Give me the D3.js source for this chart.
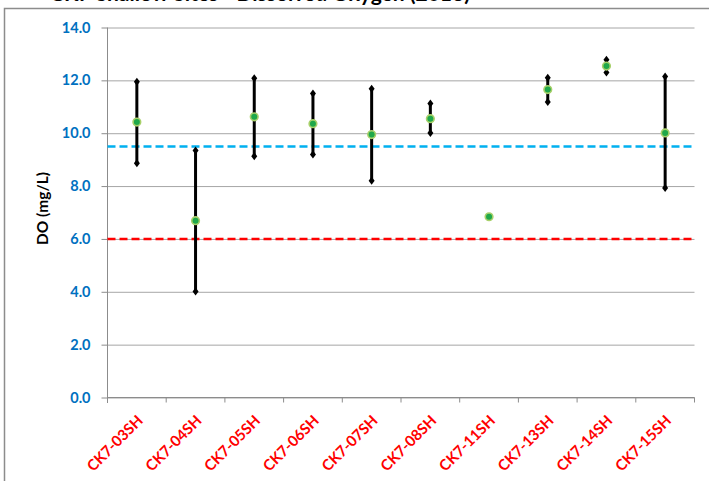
<!DOCTYPE html>
<html>
<head>
<meta charset="utf-8">
<script src="https://cdn.jsdelivr.net/npm/d3@7"></script>
<style>
  html, body { margin: 0; padding: 0; background: #fff; }
  svg { display: block; font-family: Lato, "Open Sans", sans-serif; }
</style>
</head>
<body>
<svg id="chart" width="709" height="481"></svg>
<script>
// site names along the x axis
const sites = ['CK7-03SH', 'CK7-04SH', 'CK7-05SH', 'CK7-06SH', 'CK7-07SH',
  'CK7-08SH', 'CK7-11SH', 'CK7-13SH', 'CK7-14SH', 'CK7-15SH'];
// DO values (mg/L), null = no range
const meanDO = [10.42, 6.69, 10.62, 10.36, 9.95, 10.55, 6.84, 11.65, 12.54, 10.01];
const maxDO = [11.95, 9.35, 12.08, 11.50, 11.68, 11.12, null, 12.10, 12.78, 12.15];
const minDO = [8.86, 4.01, 9.13, 9.19, 8.20, 10.01, null, 11.18, 12.30, 7.93];
const yTicks = [0, 2, 4, 6, 8, 10, 12, 14];
// reference lines
const upperRef = 9.5;
const lowerRef = 6.0;

const svg = d3.select('#chart');

// chart border (runs off the bottom/right like the screenshot)
svg.append('rect')
  .attr('x', 4.5).attr('y', 8.5)
  .attr('width', 720).attr('height', 490)
  .attr('fill', 'none')
  .attr('stroke', '#8c8c8c')
  .attr('stroke-width', 1.5);

// title, mostly above the visible area (screenshot cuts it off)
svg.append('text')
  .attr('x', 470).attr('y', 1)
  .attr('text-anchor', 'end')
  .attr('font-size', 21).attr('font-weight', 'bold')
  .attr('fill', '#000')
  .text('CK7 Shallow Sites - Dissolved Oxygen (2018)');

const x = d3.scaleBand().domain(sites).range([107.5, 694.5]);
const y = d3.scaleLinear().domain([0, 14]).range([397.5, 27.5]);

// gridlines
svg.append('g')
  .attr('transform', 'translate(107.5,0)')
  .call(d3.axisLeft(y).tickValues(yTicks).tickSize(-(694.5 - 107.5)).tickFormat(''))
  .call(g => g.select('.domain').remove())
  .call(g => g.selectAll('line').attr('stroke', '#a6a6a6'));

// y axis
svg.append('g')
  .attr('transform', 'translate(107.5,0)')
  .call(d3.axisLeft(y).tickValues(yTicks).tickSize(6).tickSizeOuter(0).tickFormat(d3.format('.1f')))
  .call(g => g.select('.domain').attr('stroke', '#8c8c8c').attr('d', 'M0,27.5V403'))
  .call(g => g.selectAll('line').attr('stroke', '#8c8c8c'))
  .call(g => g.selectAll('text')
    .attr('x', -17)
    .attr('fill', '#0070c0')
    .attr('font-size', 14.5)
    .attr('font-weight', 'bold')
    .attr('font-family', 'Lato, sans-serif'));

// x axis line + ticks between categories
const xAxis = svg.append('g');
xAxis.append('line')
  .attr('x1', 107.5).attr('x2', 694.5)
  .attr('y1', y(0)).attr('y2', y(0))
  .attr('stroke', '#8c8c8c');
xAxis.selectAll('line.tick')
  .data(sites.map(s => x(s)).concat([x.range()[1]]))
  .join('line')
  .attr('class', 'tick')
  .attr('x1', d => d).attr('x2', d => d)
  .attr('y1', y(0)).attr('y2', y(0) + 5)
  .attr('stroke', '#8c8c8c');

// rotated category labels
xAxis.selectAll('text')
  .data(sites)
  .join('text')
  .attr('transform', d => `translate(${x(d) + x.bandwidth() / 2 + 7},${y(0) + 24}) rotate(-45)`)
  .attr('text-anchor', 'end')
  .attr('fill', '#ff0000')
  .attr('font-size', 15)
  .attr('font-weight', 'bold')
  .text(d => d);

// y title
svg.append('text')
  .attr('transform', `translate(48,${(y(0) + y(14)) / 2 - 4}) rotate(-90)`)
  .attr('text-anchor', 'middle')
  .attr('font-size', 15.5)
  .attr('font-weight', 'bold')
  .attr('fill', '#000')
  .text('DO (mg/L)');

// dashed reference lines
svg.append('line')
  .attr('x1', 107.5).attr('x2', 694.5)
  .attr('y1', y(upperRef)).attr('y2', y(upperRef))
  .attr('stroke', '#00b0f0').attr('stroke-width', 2.5)
  .attr('stroke-dasharray', '8,4');
svg.append('line')
  .attr('x1', 107.5).attr('x2', 694.5)
  .attr('y1', y(lowerRef)).attr('y2', y(lowerRef))
  .attr('stroke', '#ff0000').attr('stroke-width', 2.5)
  .attr('stroke-dasharray', '8,4');

// min/max whiskers
const rows = sites.map((s, i) => ({ site: s, mean: meanDO[i], min: minDO[i], max: maxDO[i] }));
const ranged = rows.filter(d => d.min !== null);
const cx = d => x(d.site) + x.bandwidth() / 2;

svg.append('g').selectAll('line')
  .data(ranged)
  .join('line')
  .attr('x1', cx).attr('x2', cx)
  .attr('y1', d => y(d.min)).attr('y2', d => y(d.max))
  .attr('stroke', '#000').attr('stroke-width', 3);

const diamond = 'M0,-4L3,0L0,4L-3,0Z';
const ends = ranged.flatMap(d => [{ site: d.site, v: d.min }, { site: d.site, v: d.max }]);
svg.append('g').selectAll('path')
  .data(ends)
  .join('path')
  .attr('transform', d => `translate(${cx(d)},${y(d.v)})`)
  .attr('d', diamond)
  .attr('fill', '#000');

// mean markers
svg.append('g').selectAll('circle')
  .data(rows)
  .join('circle')
  .attr('cx', cx)
  .attr('cy', d => y(d.mean))
  .attr('r', 3.8)
  .attr('fill', '#1fa84a')
  .attr('stroke', '#a8d06a')
  .attr('stroke-width', 1.6);
</script>
</body>
</html>
